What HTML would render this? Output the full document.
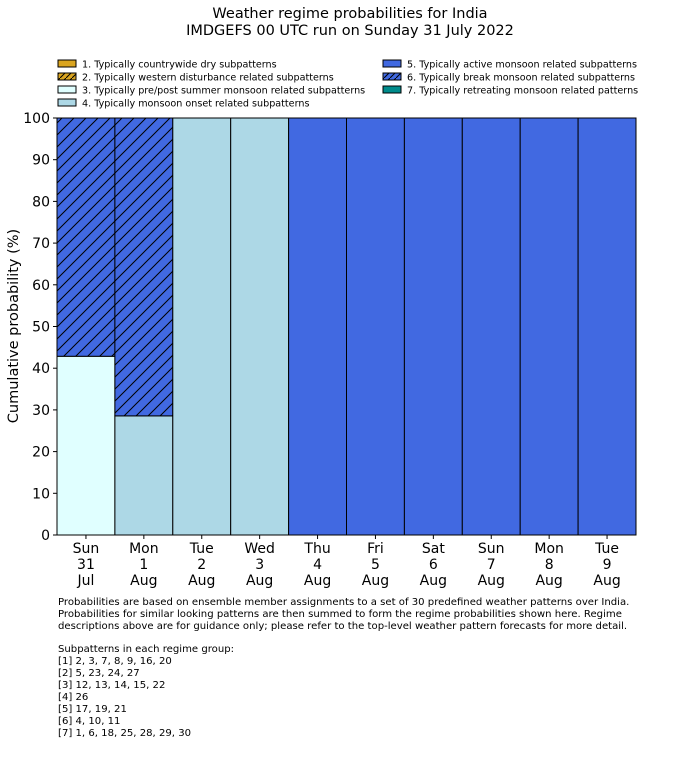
<!DOCTYPE html>
<html><head><meta charset="utf-8"><style>
body{margin:0;background:#fff;font-family:"Liberation Sans","DejaVu Sans",sans-serif;}
svg text{font-family:"DejaVu Sans","Liberation Sans",sans-serif;}
</style></head><body>
<svg width="700" height="754" xmlns="http://www.w3.org/2000/svg">
<defs>
<pattern id="hatch" patternUnits="userSpaceOnUse" width="12" height="12">
<rect width="12" height="12" fill="#4169e1"/>
<path d="M-3,3 L3,-3 M0,12 L12,0 M9,15 L15,9" stroke="#000" stroke-width="1"/>
</pattern>
<pattern id="hatchO" patternUnits="userSpaceOnUse" width="6" height="6">
<rect width="6" height="6" fill="#daa520"/>
<path d="M0,6 L6,0" stroke="#000" stroke-width="1"/>
</pattern>
<pattern id="hatchS" patternUnits="userSpaceOnUse" width="6" height="6">
<rect width="6" height="6" fill="#4169e1"/>
<path d="M0,6 L6,0" stroke="#000" stroke-width="1"/>
</pattern>
</defs>
<text x="350" y="18" text-anchor="middle" font-size="14.5">Weather regime probabilities for India</text>
<text x="350" y="35" text-anchor="middle" font-size="14.5">IMDGEFS 00 UTC run on Sunday 31 July 2022</text>
<g id="legend" font-size="9.6"></g>
<g id="plot"></g>
<g id="yaxis" font-size="14"></g>
<g id="xaxis" font-size="14"></g>
<text transform="translate(18,326) rotate(-90)" text-anchor="middle" font-size="14.5">Cumulative probability (%)</text>
<g font-size="10.1" fill="#000">
<text x="58" y="605">Probabilities are based on ensemble member assignments to a set of 30 predefined weather patterns over India.</text>
<text x="58" y="617">Probabilities for similar looking patterns are then summed to form the regime probabilities shown here. Regime</text>
<text x="58" y="629">descriptions above are for guidance only; please refer to the top-level weather pattern forecasts for more detail.</text>
<text x="58" y="652">Subpatterns in each regime group:</text>
<text x="58" y="664">[1] 2, 3, 7, 8, 9, 16, 20</text>
<text x="58" y="676">[2] 5, 23, 24, 27</text>
<text x="58" y="688">[3] 12, 13, 14, 15, 22</text>
<text x="58" y="700">[4] 26</text>
<text x="58" y="712">[5] 17, 19, 21</text>
<text x="58" y="724">[6] 4, 10, 11</text>
<text x="58" y="736">[7] 1, 6, 18, 25, 28, 29, 30</text>
</g>
</svg>
<script>
const days = ["Sun|31|Jul","Mon|1|Aug","Tue|2|Aug","Wed|3|Aug","Thu|4|Aug","Fri|5|Aug","Sat|6|Aug","Sun|7|Aug","Mon|8|Aug","Tue|9|Aug"];
const cat3 = [42.86,0,0,0,0,0,0,0,0,0];
const cat4 = [0,28.57,100,100,0,0,0,0,0,0];
const cat5 = [0,0,0,0,100,100,100,100,100,100];
const cat6 = [57.14,71.43,0,0,0,0,0,0,0,0];
const yTicks = [0,10,20,30,40,50,60,70,80,90,100];
const legendLabels = ["1. Typically countrywide dry subpatterns","2. Typically western disturbance related subpatterns","3. Typically pre/post summer monsoon related subpatterns","4. Typically monsoon onset related subpatterns","5. Typically active monsoon related subpatterns","6. Typically break monsoon related subpatterns","7. Typically retreating monsoon related patterns"];
const NS="http://www.w3.org/2000/svg";
const X0=57,X1=636,Y0=535,Y1=118;
const bw=(X1-X0)/days.length;
const xs=i=>X0+i*bw;
const ys=v=>Y0-(Y0-Y1)*v/100;
function mk(t,a,p){const e=document.createElementNS(NS,t);for(const k in a)e.setAttribute(k,a[k]);p.appendChild(e);return e;}
const plot=document.getElementById('plot');
const series=[[cat3,'#e0ffff','cat3'],[cat4,'#add8e6','cat4'],[cat5,'#4169e1','cat5'],[cat6,'url(#hatch)','cat6']];
days.forEach((d,i)=>{let acc=0;series.forEach(s=>{const v=s[0][i];if(v>0){const r=mk('rect',{x:xs(i),y:ys(acc+v),width:bw,height:ys(acc)-ys(acc+v),fill:s[1],stroke:'#000','stroke-width':1},plot);


acc+=v;}});});
const fr=mk('rect',{x:X0,y:Y1,width:X1-X0,height:Y0-Y1,fill:'none',stroke:'#000','stroke-width':1},plot);


const ya=document.getElementById('yaxis');
yTicks.forEach(t=>{mk('line',{x1:X0-4,x2:X0,y1:ys(t),y2:ys(t),stroke:'#000'},ya);const tx=mk('text',{x:X0-7,y:ys(t)+5,'text-anchor':'end'},ya);tx.textContent=t;

});
const xa=document.getElementById('xaxis');
days.forEach((d,i)=>{const cx=xs(i)+bw/2;mk('line',{x1:cx,x2:cx,y1:Y0,y2:Y0+4,stroke:'#000'},xa);d.split('|').forEach((l,j)=>{const tx=mk('text',{x:cx,y:553+j*16,'text-anchor':'middle'},xa);tx.textContent=l;

});});
const lg=document.getElementById('legend');
const lfills=['#daa520','url(#hatchO)','#e0ffff','#add8e6','#4169e1','url(#hatchS)','#008b8b'];
legendLabels.forEach((l,i)=>{const col=i<4?0:1,row=i<4?i:i-4;const x=col?383:58,y=60+row*13;
mk('rect',{x:x,y:y,width:18,height:7,fill:lfills[i],stroke:'#000','stroke-width':1},lg);
const tx=mk('text',{x:x+24,y:y+7.5},lg);tx.textContent=l;

});
</script>
</body></html>
